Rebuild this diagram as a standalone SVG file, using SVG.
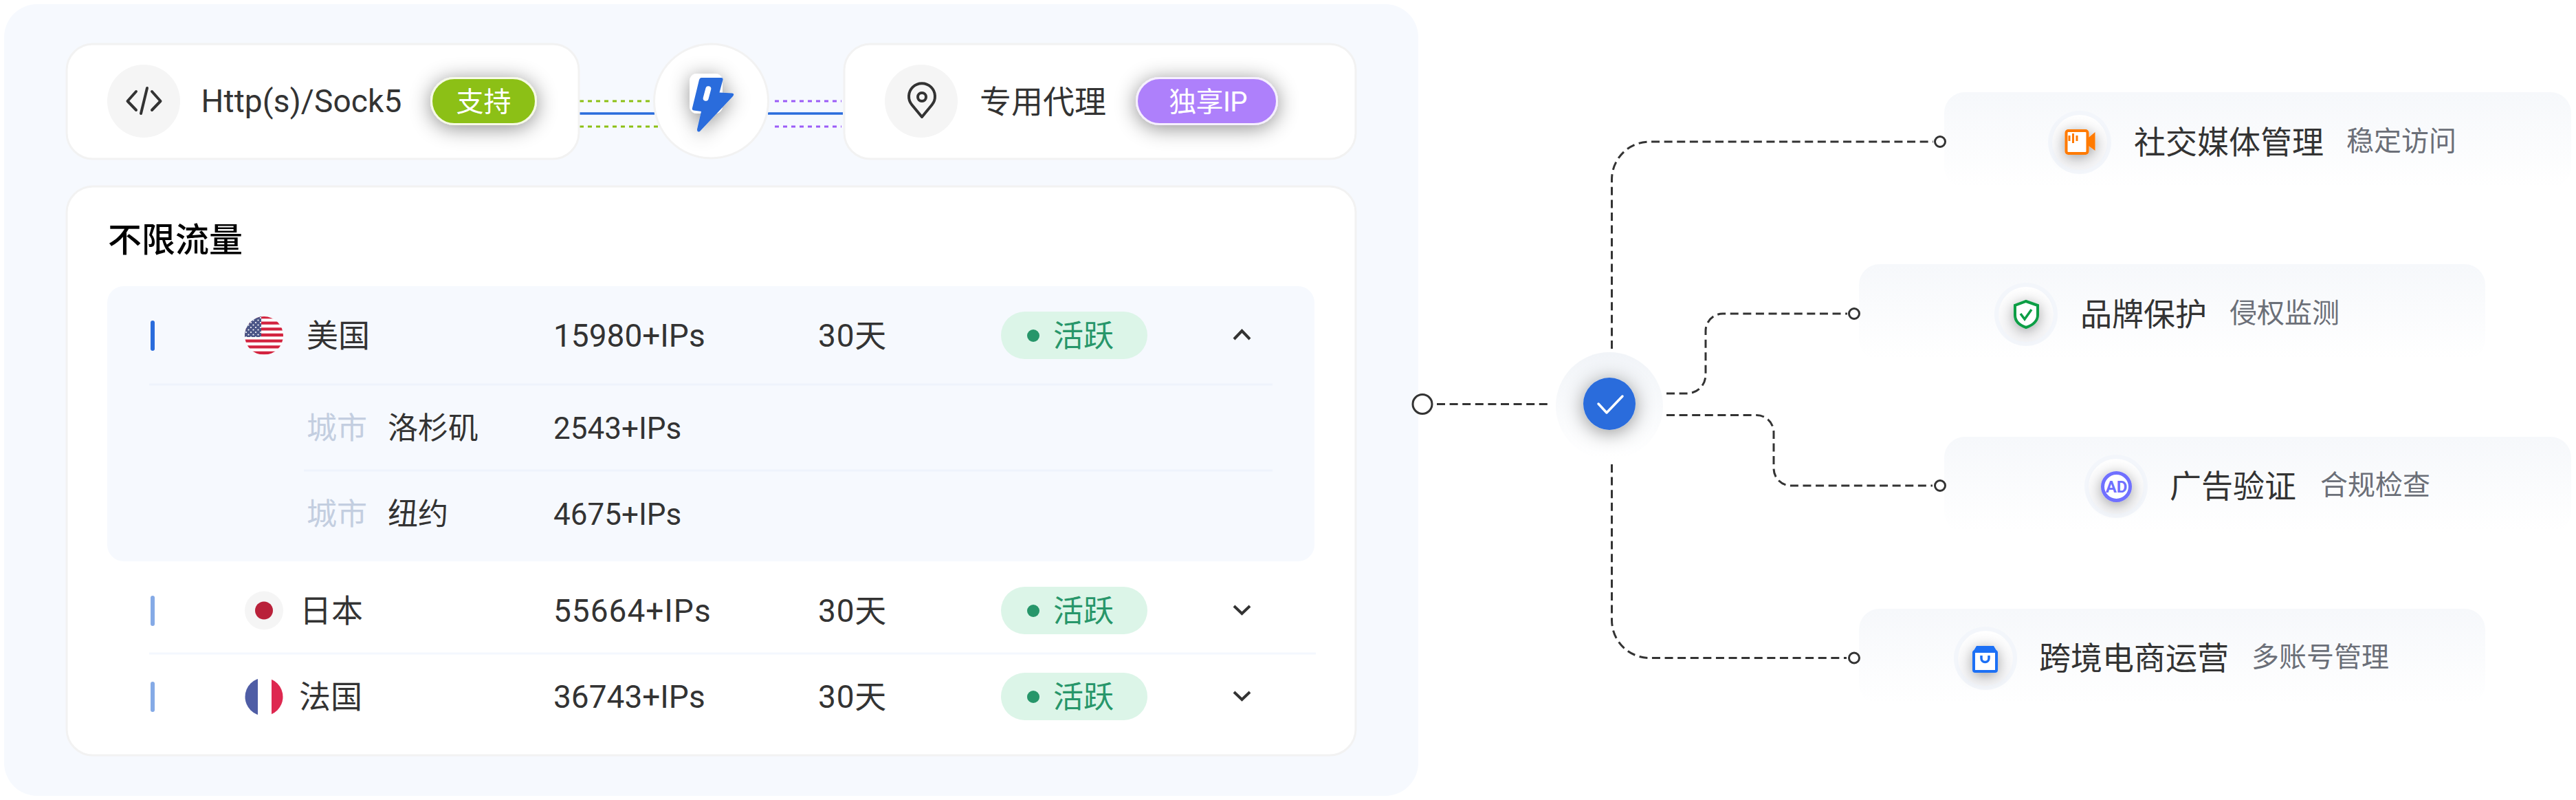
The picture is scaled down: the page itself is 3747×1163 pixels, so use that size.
<svg xmlns="http://www.w3.org/2000/svg" width="3747" height="1163" viewBox="0 0 3747 1163">
<style>
text{font-family:Roboto,"Noto Sans CJK SC",sans-serif;fill:#333;font-size:46px}
.title{font-size:49px;font-weight:500;fill:#000}
.city{font-size:44px;fill:#c3cee0}
.sub{font-size:44px}
.badge{font-size:40px;fill:#fff;text-anchor:middle}
.act{font-size:44px;fill:#27966a}
.desc{font-size:40px;fill:#6b6f78}
.card{fill:#fff;stroke:#f2f2f2;stroke-width:3}
.ic{fill:#f5f5f5}
.bar{fill:#2a6cdc}
.bar2{fill:#85aae6}
.pill{fill:#dcf5e8}
.dot{fill:#27966a}
.chev{fill:none;stroke:#333;stroke-width:4}
.div{stroke:#eef3fc;stroke-width:3}
.dash{fill:none;stroke:#333;stroke-width:3;stroke-dasharray:12 6.6}
.end{fill:#fff;stroke:#333;stroke-width:3}
.rc{fill:url(#cardG)}
.h1{fill:#f3f6fb}
.h2{fill:url(#haloG)}
.ink{fill:none;stroke:#333;stroke-width:4;stroke-linecap:round;stroke-linejoin:round}
</style>
<defs>
<linearGradient id="cardG" x1="0" y1="0" x2="0" y2="1"><stop offset="0" stop-color="#f6f8fb"/><stop offset="1" stop-color="#fff"/></linearGradient>
<linearGradient id="haloG" x1="0" y1="0" x2="0" y2="1"><stop offset="0" stop-color="#fff"/><stop offset="1" stop-color="#f5f5f7"/></linearGradient>
<linearGradient id="mainH" x1="0" y1="0" x2="0" y2="1"><stop offset="0" stop-color="#f1f4f8"/><stop offset="1" stop-color="#fff"/></linearGradient>
<filter id="sh" x="-60%" y="-100%" width="220%" height="300%"><feDropShadow dx="0" dy="4" stdDeviation="15" flood-color="#000" flood-opacity=".45"/></filter>
<filter id="shi" x="-120%" y="-120%" width="340%" height="340%"><feDropShadow dx="0" dy="4" stdDeviation="10" flood-color="#000" flood-opacity=".36"/></filter>
<filter id="shb" x="-120%" y="-120%" width="340%" height="340%"><feDropShadow dx="0" dy="4" stdDeviation="14" flood-color="#000" flood-opacity=".42"/></filter>
<clipPath id="usC"><circle cx="384" cy="488" r="28"/></clipPath>
<clipPath id="frC"><circle cx="384" cy="1013" r="27.5"/></clipPath>
<pattern id="stars" x="356" y="460" width="7" height="7" patternUnits="userSpaceOnUse"><circle cx="2" cy="2" r="1.1" fill="#fff"/><circle cx="5.5" cy="5.5" r="1.1" fill="#fff"/></pattern>
</defs>
<rect id="panel" x="6" y="6" width="2057" height="1151" rx="48" fill="#f6f9fe"/>
<g id="links-top">
<path d="M843 147H952M843 184H958" fill="none" stroke="#8cc014" stroke-width="3" stroke-dasharray="6 6"/>
<path d="M843 165H952M1117 165H1226" fill="none" stroke="#2a6cdc" stroke-width="3.500"/>
<path d="M1127 147H1224M1127 184H1224" fill="none" stroke="#9b5cf7" stroke-width="3" stroke-dasharray="6 6"/>
</g>
<g id="node-http">
<rect class="card" x="97" y="64" width="745" height="167" rx="38"/>
<circle class="ic" cx="209" cy="147" r="53"/>
<path class="ink" d="M198 133L185.500 147L198 160M221 133L233.500 147L221 160M214 128L205 165"/>
<text x="292.500" y="163" style="letter-spacing:.15px">Http(s)/Sock5</text>
<rect x="627.500" y="113.500" width="152" height="67" rx="33.500" fill="#8cc014" stroke="#f6fae6" stroke-width="3" filter="url(#sh)"/>
<text class="badge" x="703.500" y="162">支持</text>
</g>
<g id="node-hub">
<circle cx="1034.500" cy="147" r="83" fill="#fff" stroke="#f2f2f2" stroke-width="3"/>
<g filter="url(#shb)">
<rect x="1003" y="107" width="48" height="58" rx="11" fill="#fff"/>
<path d="M1020 113H1049Q1052 113 1051.500 116L1046.500 134.500L1065 135.500Q1069 136 1066 140L1018 191Q1014 193 1014 188L1020 162L1009 160.500Q1006 160 1007 157L1017 116Q1018 113 1020 113Z" fill="#2a6cdc"/>
</g>
<rect x="1024.500" y="125" width="8" height="22" rx="4" fill="#fff" transform="rotate(15 1028.500 136)"/>
</g>
<g id="node-dedicated">
<rect class="card" x="1228" y="64" width="744" height="167" rx="38"/>
<circle class="ic" cx="1340" cy="147" r="53"/>
<path class="ink" d="M1341 170L1326.500 152.500A19 19 0 1 1 1355.500 152.500Z"/>
<circle class="ink" cx="1341" cy="141" r="6"/>
<text x="1425" y="164">专用代理</text>
<rect x="1653.500" y="113.500" width="204" height="67" rx="33.500" fill="#ae80fb" stroke="#f6efff" stroke-width="3" filter="url(#sh)"/>
<text class="badge" x="1757" y="162" style="letter-spacing:-.6px">独享IP</text>
</g>
<g id="node-table">
<rect class="card" x="97" y="271" width="1875" height="827" rx="38"/>
<text class="title" x="157" y="366">不限流量</text>
<rect x="156" y="416" width="1756" height="400" rx="24" fill="#f6f9fe"/>
<path class="div" d="M217 559H1851M442 684H1851"/>
<path class="div" d="M217 950H1914" style="stroke:#f4f7fe"/>
</g>
<g id="row-us">
<rect class="bar" x="219" y="466" width="6" height="44" rx="3"/>
<g clip-path="url(#usC)">
<rect x="356" y="460" width="56" height="56" fill="#fff"/>
<path d="M356 461H412M356 469.600H412M356 478.300H412M356 487H412M356 495.600H412M356 504.300H412M356 513H412" stroke="#d2233f" stroke-width="4.300"/>
<rect x="356" y="460" width="24" height="30" fill="#4b5687"/>
<rect x="356" y="460" width="24" height="30" fill="url(#stars)"/>
</g>
<text x="446" y="504">美国</text>
<text x="805" y="504">15980+IPs</text>
<text x="1190" y="504" style="letter-spacing:.8px">30天</text>
<rect class="pill" x="1456" y="453" width="213" height="69" rx="34.500"/>
<circle class="dot" cx="1503" cy="488" r="9"/>
<text class="act" x="1532" y="504">活跃</text>
<path class="chev" d="M1795 493L1806.500 481L1818 493"/>
</g>
<g id="row-la">
<text class="city" x="446" y="638">城市</text>
<text class="sub" x="564" y="638">洛杉矶</text>
<text class="sub" x="805" y="638">2543+IPs</text>
</g>
<g id="row-ny">
<text class="city" x="446" y="763">城市</text>
<text class="sub" x="564" y="763">纽约</text>
<text class="sub" x="805" y="763">4675+IPs</text>
</g>
<g id="row-jp">
<rect class="bar2" x="219" y="866" width="6" height="44" rx="3"/>
<circle cx="384" cy="887.500" r="28" fill="#f5f5f5"/>
<circle cx="384" cy="887.500" r="13" fill="#b9213a"/>
<text x="436" y="904">日本</text>
<text x="805" y="904" style="letter-spacing:1px">55664+IPs</text>
<text x="1190" y="904" style="letter-spacing:.8px">30天</text>
<rect class="pill" x="1456" y="853" width="213" height="69" rx="34.500"/>
<circle class="dot" cx="1503" cy="888" r="9"/>
<text class="act" x="1532" y="904">活跃</text>
<path class="chev" d="M1795 881L1806.500 892L1818 881"/>
</g>
<g id="row-fr">
<rect class="bar2" x="219" y="991" width="6" height="44" rx="3"/>
<g clip-path="url(#frC)">
<rect x="356" y="985" width="19" height="56" fill="#4f5da5"/>
<rect x="375" y="985" width="20" height="56" fill="#fff"/>
<rect x="395" y="985" width="18" height="56" fill="#de2850"/>
</g>
<text x="435" y="1029">法国</text>
<text x="805" y="1029">36743+IPs</text>
<text x="1190" y="1029" style="letter-spacing:.8px">30天</text>
<rect class="pill" x="1456" y="978" width="213" height="69" rx="34.500"/>
<circle class="dot" cx="1503" cy="1013" r="9"/>
<text class="act" x="1532" y="1029">活跃</text>
<path class="chev" d="M1795 1006L1806.500 1017L1818 1006"/>
</g>
<g id="node-social">
<rect class="rc" x="2828" y="134" width="912" height="139" rx="30"/>
<circle class="h1" cx="3025" cy="207" r="46"/>
<circle class="h2" cx="3025" cy="207" r="40"/>
<g filter="url(#shi)">
<rect x="3005.500" y="190" width="31" height="33" rx="3" fill="#fff" stroke="#ff7a00" stroke-width="4"/>
<path d="M3038 200L3047.500 192V219L3038 212Z" fill="#ff7a00"/>
<path d="M3010 197V205M3015.500 194V208M3021 197V205" stroke="#ff7a00" stroke-width="3" fill="none"/>
</g>
<text x="3104" y="223">社交媒体管理</text>
<text class="desc" x="3413" y="219">稳定访问</text>
</g>
<g id="node-brand">
<rect class="rc" x="2704" y="384" width="911" height="139" rx="30"/>
<circle class="h1" cx="2947" cy="457" r="46"/>
<circle class="h2" cx="2947" cy="457" r="40"/>
<g filter="url(#shi)">
<path d="M2947 438L2964 444V458C2964 467 2956 473 2947 476C2938 473 2931 467 2931 458V444Z" fill="#fff" stroke="#0a9e45" stroke-width="4"/>
<path d="M2939 456L2945 464L2955 450" fill="none" stroke="#0a9e45" stroke-width="3.500"/>
</g>
<text x="3026" y="473">品牌保护</text>
<text class="desc" x="3243" y="469">侵权监测</text>
</g>
<g id="node-ad">
<rect class="rc" x="2828" y="635" width="912" height="139" rx="30"/>
<circle class="h1" cx="3078" cy="707" r="46"/>
<circle class="h2" cx="3078" cy="707" r="40"/>
<circle cx="3078.500" cy="707.500" r="20" fill="#fff" stroke="#7070ff" stroke-width="5" filter="url(#shi)"/>
<text x="3078.500" y="716" style="font-size:24px;font-weight:700;fill:#7070ff;text-anchor:middle">AD</text>
<text x="3156" y="723">广告验证</text>
<text class="desc" x="3375" y="719">合规检查</text>
</g>
<g id="node-ecom">
<rect class="rc" x="2704" y="885" width="911" height="139" rx="30"/>
<circle class="h1" cx="2888" cy="957" r="46"/>
<circle class="h2" cx="2888" cy="957" r="40"/>
<g filter="url(#shi)">
<rect x="2871" y="947" width="33" height="29" rx="2" fill="#fff" stroke="#1f6ff5" stroke-width="4"/>
<path d="M2869 949L2875 939H2900L2906 949Z" fill="#1f6ff5"/>
<path d="M2882 953V957A5.500 5.500 0 0 0 2893 957V953" fill="none" stroke="#1f6ff5" stroke-width="3.500"/>
</g>
<text x="2966" y="973">跨境电商运营</text>
<text class="desc" x="3275" y="969">多账号管理</text>
</g>
<g id="connectors">
<path class="dash" d="M2090 587.500H2252"/>
<path class="dash" d="M2344.500 507V261A55 55 0 0 1 2399.500 206H2812"/>
<path class="dash" d="M2424 572H2454A27 27 0 0 0 2481 545V481A25 25 0 0 1 2506 456H2687"/>
<path class="dash" d="M2424 603.500H2555A25 25 0 0 1 2580 628.500V681A25 25 0 0 0 2605 706H2811"/>
<path class="dash" d="M2344.500 675V901.500A55 55 0 0 0 2399.500 956.500H2686"/>
</g>
<g id="endpoints">
<circle class="end" cx="2069" cy="587.500" r="14"/>
<circle class="end" cx="2822" cy="206" r="7.500"/>
<circle class="end" cx="2697" cy="456" r="7.500"/>
<circle class="end" cx="2822" cy="706" r="7.500"/>
<circle class="end" cx="2697" cy="956.500" r="7.500"/>
</g>
<g id="node-check">
<circle cx="2341" cy="590" r="78" fill="url(#mainH)"/>
<circle cx="2341" cy="587" r="38" fill="#2a6cdc" filter="url(#shb)"/>
<path d="M2325 587L2337 600L2360 576" fill="none" stroke="#fff" stroke-width="3.500" stroke-linecap="round" stroke-linejoin="round"/>
</g>
</svg>
